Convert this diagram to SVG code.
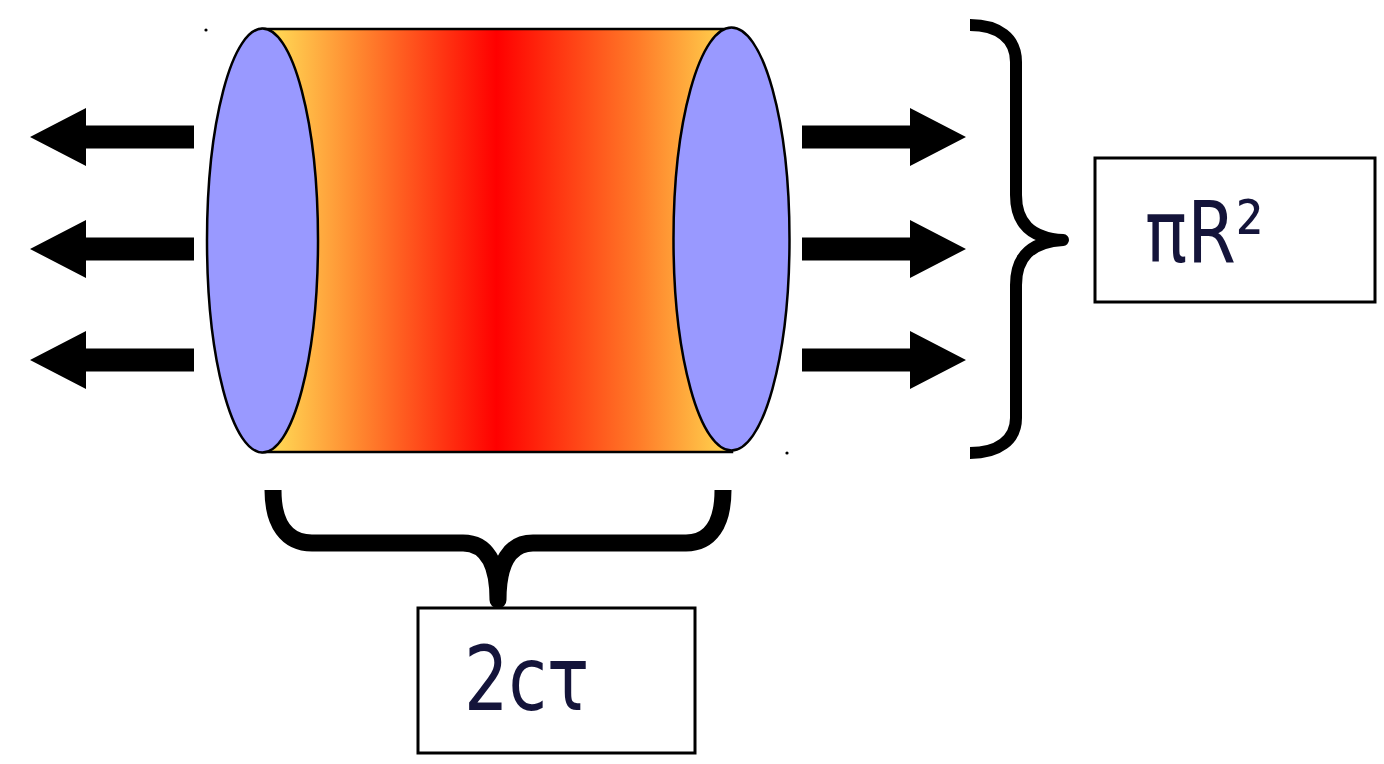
<svg xmlns="http://www.w3.org/2000/svg" xmlns:xlink="http://www.w3.org/1999/xlink" width="1384" height="764" viewBox="0 0 1384 764">
<style>
.cap{fill:#9999ff;stroke:#000;stroke-width:2.5}
.brace{fill:none;stroke:#000;stroke-width:14;stroke-linejoin:round}
.arrow{fill:#000}
.box{fill:#fff;stroke:#000;stroke-width:3}
.lbl{font-family:"DejaVu Sans",Verdana,sans-serif;font-size:70px;fill:#14143a}
</style>
<defs>
<linearGradient id="heat" x1="262" y1="0" x2="731" y2="0" gradientUnits="userSpaceOnUse">
<stop offset="0" stop-color="#ffe45a"/>
<stop offset="0.2" stop-color="#ff8a30"/>
<stop offset="0.5" stop-color="#ff0000"/>
<stop offset="0.8" stop-color="#ff7a28"/>
<stop offset="1" stop-color="#ffd850"/>
</linearGradient>
<path id="arr" d="M0,-11.5 H108 V-29 L164,0 L108,29 V11.5 H0 Z"/>
</defs>
<rect width="1384" height="764" fill="#fff"/>
<g id="cylinder">
<rect x="262" y="29" width="470" height="423" fill="url(#heat)" stroke="#000" stroke-width="2.5"/>
<ellipse class="cap" cx="262.5" cy="240.5" rx="55.5" ry="212"/>
<ellipse class="cap" cx="731.5" cy="239" rx="58" ry="211.5"/>
<circle cx="206" cy="30" r="1.6" fill="#000"/>
<circle cx="787" cy="453" r="1.6" fill="#000"/>
</g>
<g id="connectors">
<g id="arrows-left" class="arrow">
<use xlink:href="#arr" transform="translate(194,137) scale(-1,1)"/>
<use xlink:href="#arr" transform="translate(194,249) scale(-1,1)"/>
<use xlink:href="#arr" transform="translate(194,360) scale(-1,1)"/>
</g>
<g id="arrows-right" class="arrow">
<use xlink:href="#arr" transform="translate(802,137)"/>
<use xlink:href="#arr" transform="translate(802,249)"/>
<use xlink:href="#arr" transform="translate(802,360)"/>
</g>
</g>
<g id="brace-right">
<path class="brace" style="stroke-width:12" d="M970,25 C998,25 1016,38 1016,62 L1016,195 C1016,222 1030,238 1063,240 C1030,242 1016,258 1016,285 L1016,418 C1016,440 998,453 970,453"/>
</g>
<g id="brace-bottom">
<path class="brace" style="stroke-width:17" d="M273,490 C273,524 287,543 312,543 L463,543 C486,543 498,562 498,600 C498,562 510,543 533,543 L686,543 C710,543 723,524 723,490"/>
</g>
<g id="box-area">
<rect class="box" x="1095" y="158" width="280" height="144"/>
<text class="lbl" transform="translate(1145,262) scale(1,1.22)">πR²</text>
</g>
<g id="box-length">
<rect class="box" x="418" y="608" width="277" height="145"/>
<text class="lbl" transform="translate(464,710) scale(1,1.27)">2cτ</text>
</g>
</svg>
